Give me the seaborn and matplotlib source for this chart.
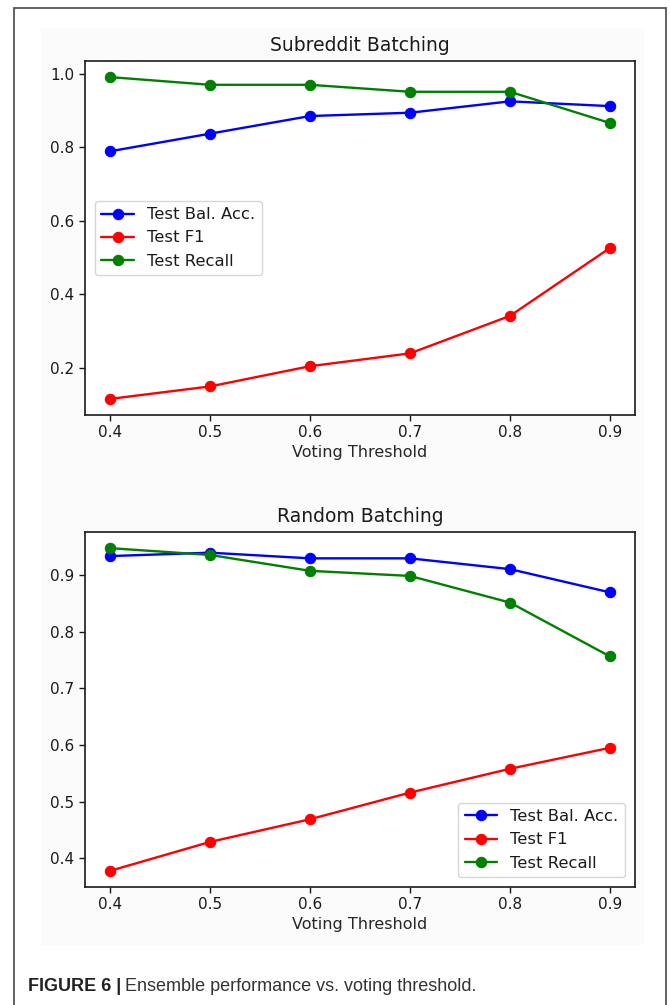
import numpy as np
import pandas as pd
import matplotlib
matplotlib.use('Agg')
import matplotlib.pyplot as plt
import seaborn as sns

# --- Data ---
thresholds = [0.4, 0.5, 0.6, 0.7, 0.8, 0.9]

sub_bal_acc = [0.789, 0.837, 0.885, 0.894, 0.925, 0.912]
sub_f1 = [0.115, 0.149, 0.204, 0.239, 0.341, 0.526]
sub_recall = [0.991, 0.970, 0.970, 0.951, 0.951, 0.866]

rand_bal_acc = [0.933, 0.939, 0.929, 0.929, 0.910, 0.869]
rand_f1 = [0.378, 0.429, 0.469, 0.516, 0.558, 0.595]
rand_recall = [0.947, 0.935, 0.907, 0.898, 0.851, 0.756]

series_names = ['Test Bal. Acc.', 'Test F1', 'Test Recall']
series_colors = ['blue', 'red', 'green']

sns.set_style('ticks', {'axes.edgecolor': '0.1', 'xtick.color': '0.1',
                        'ytick.color': '0.1', 'text.color': '0.1'})
plt.rcParams['font.family'] = ['DejaVu Sans']

fig = plt.figure(figsize=(6.7, 10.05), dpi=100)
W, H = 670, 1005

# outer frame of the figure panel
fig.add_artist(plt.Line2D([14 / W, 14 / W], [0, 1 - 8 / H], color='#555555', lw=1.3))
fig.add_artist(plt.Line2D([666 / W, 666 / W], [0, 1 - 8 / H], color='#555555', lw=1.3))
fig.add_artist(plt.Line2D([14 / W, 666 / W], [1 - 8 / H, 1 - 8 / H], color='#555555', lw=1.3))

# faint grey backdrop of the embedded plot image
fig.add_artist(plt.Rectangle((41 / W, 1 - 945 / H), (644 - 41) / W, (945 - 28) / H,
                             facecolor='#fbfbfb', edgecolor='none', zorder=-5))


def draw_panel(ax, values, title, legend_loc):
    for name, col, vals in zip(series_names, series_colors, values):
        df = pd.DataFrame({'threshold': thresholds, 'score': vals})
        sns.lineplot(data=df, x='threshold', y='score', ax=ax, color=col,
                     marker='o', markersize=7.5, markeredgecolor=col,
                     linewidth=1.7, label=name)
    ax.set_title(title, fontsize=13.5, pad=7)
    ax.set_xlabel('Voting Threshold', fontsize=11.5, labelpad=3)
    ax.set_ylabel('')
    ax.set_xticks(thresholds)
    ax.tick_params(labelsize=11, length=4, width=1)
    for sp in ax.spines.values():
        sp.set_linewidth(1.2)
    ax.set_facecolor('white')
    ax.legend(loc=legend_loc, fontsize=11.8, framealpha=0.8, edgecolor='0.8',
              fancybox=True, handlelength=2.0, borderaxespad=0.6)


ax1 = fig.add_axes([85 / W, 1 - 415 / H, 550 / W, 354 / H])
draw_panel(ax1, [sub_bal_acc, sub_f1, sub_recall], 'Subreddit Batching', 'center left')
ax1.set_yticks([0.2, 0.4, 0.6, 0.8, 1.0])

ax2 = fig.add_axes([85 / W, 1 - 887 / H, 550 / W, 355 / H])
draw_panel(ax2, [rand_bal_acc, rand_f1, rand_recall], 'Random Batching', 'lower right')
ax2.set_yticks([0.4, 0.5, 0.6, 0.7, 0.8, 0.9])

# caption
cap = fig.text(28 / W, 1 - 986 / H, 'FIGURE 6 |', fontsize=13, fontweight='bold',
               family='Liberation Sans', color='#222222', va='center')
fig.canvas.draw()
bb = cap.get_window_extent()
fig.text(bb.x1 / W + 4 / W, 1 - 986 / H, 'Ensemble performance vs. voting threshold.',
         fontsize=13, family='Liberation Sans', color='#333333', va='center')

fig.savefig('out.png', dpi=100)
